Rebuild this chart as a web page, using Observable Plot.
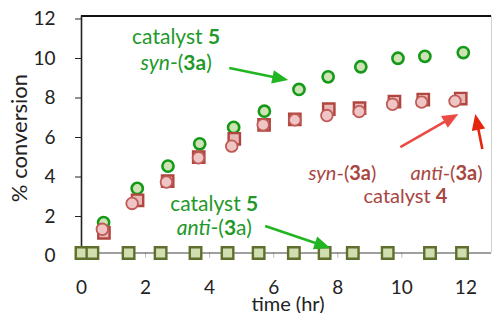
<!DOCTYPE html>
<html><head><meta charset="utf-8">
<script src="https://cdn.jsdelivr.net/npm/d3@7"></script>
<script src="https://cdn.jsdelivr.net/npm/@observablehq/plot@0.6"></script>
<style>body{margin:0;background:#fff} svg{display:block}</style>
</head><body><div id="chart"></div>
<script>
// catalyst 5, syn-(3a): green circles
const cat5SynTime = [0.69,1.74,2.70,3.69,4.75,5.71,6.79,7.70,8.72,9.88,10.72,11.92];
const cat5SynConv = [1.54,3.27,4.40,5.53,6.36,7.18,8.28,8.92,9.43,9.86,9.96,10.15];
// catalyst 5, anti-(3a): olive squares
const cat5AntiTime = [0,0.34,1.47,2.47,3.56,4.56,5.53,6.63,7.59,8.47,9.56,10.88,11.88];
const cat5AntiConv = [0,0,0,0,0,0,0,0,0,0,0,0,0];
// catalyst 4, anti-(3a): red squares
const cat4AntiTime = [0.70,1.75,2.69,3.66,4.77,5.70,6.66,7.72,8.68,9.77,10.67,11.84];
const cat4AntiConv = [1.02,2.67,3.64,4.85,5.78,6.49,6.77,7.28,7.33,7.67,7.77,7.82];
// catalyst 4, syn-(3a): pink circles
const cat4SynTime = [0.65,1.58,2.65,3.65,4.69,5.67,6.66,7.66,8.67,9.71,10.62,11.66];
const cat4SynConv = [1.20,2.51,3.59,4.82,5.41,6.49,6.74,6.96,7.16,7.53,7.64,7.69];

const xTicks = [0,2,4,6,8,10,12];
const yTicks = [0,2,4,6,8,10,12];
const xLabel = "time (hr)";
const yLabel = "% conversion";

// annotations (data coordinates)
const greenNotes = [
  {x: 2.97, y: 10.91, parts: [["catalyst ", ""], ["5", "b"]]},
  {x: 2.97, y: 9.59, parts: [["syn", "i"], ["-(", ""], ["3a", "b"], [")", ""]]},
  {x: 4.16, y: 2.46, parts: [["catalyst ", ""], ["5", "b"]]},
  {x: 4.16, y: 1.24, parts: [["anti", "i"], ["-(", ""], ["3", "b"], ["a)", ""]]}
];
const redNotes = [
  {x: 8.16, y: 4.05, parts: [["syn", "i"], ["-(", ""], ["3a", "b"], [")", ""]]},
  {x: 11.41, y: 4.05, parts: [["anti", "i"], ["-(", ""], ["3a", "b"], [")", ""]]},
  {x: 10.13, y: 2.88, parts: [["catalyst ", ""], ["4", "b"]]}
];
const arrows = [
  {x1: 4.63, y1: 9.34, x2: 6.47, y2: 8.73, c: "#22b522"},
  {x1: 5.75, y1: 1.34, x2: 7.78, y2: 0.23, c: "#22b522"},
  {x1: 9.97, y1: 5.34, x2: 11.78, y2: 7.01, c: "#ec4a44"},
  {x1: 12.53, y1: 5.24, x2: 12.31, y2: 7.01, c: "#e6250e"}
];

const zip = (xs, ys) => xs.map((x, i) => ({x, y: ys[i]}));
const FONT = "Lato, 'Open Sans', sans-serif";

const chart = Plot.plot({
  width: 495, height: 313,
  marginLeft: 81, marginRight: 4, marginTop: 15.5, marginBottom: 60.5,
  style: {fontFamily: FONT, background: "white", overflow: "visible"},
  x: {domain: [0, 12.8]},
  y: {domain: [0, 12]},
  marks: [
    Plot.ruleY([12], {stroke: "#111", strokeWidth: 2}),
    Plot.ruleX([12.8], {stroke: "#d0d0d0", strokeWidth: 1}),
    Plot.ruleX(xTicks.slice(1), {y1: 0, y2: -0.26, stroke: "#b8b8b8"}),
    Plot.ruleY([0], {stroke: "#404040", strokeWidth: 1.2}),
    Plot.ruleX([0], {stroke: "#222", strokeWidth: 1.6}),
    Plot.axisY({ticks: yTicks, tickSize: 6, tickPadding: 20, fontSize: 19, dy: 3, label: null, color: "#222"}),
    Plot.axisX({ticks: xTicks, tickSize: 0, tickPadding: 27, fontSize: 19, label: null, color: "#222"}),
    Plot.dot(zip(cat5SynTime, cat5SynConv), {x: "x", y: "y", r: 5.6, fill: "#cfe2b4", stroke: "#149a18", strokeWidth: 2.6}),
    Plot.dot(zip(cat4AntiTime, cat4AntiConv), {x: "x", y: "y", r: 6.4, symbol: "square", fill: "#e6b8b6", stroke: "#b0463f", strokeWidth: 2.4}),
    Plot.dot(zip(cat4SynTime, cat4SynConv), {x: "x", y: "y", r: 5.8, fill: "#efc6c5", stroke: "#c05a55", strokeWidth: 1.8}),
    Plot.dot(zip(cat5AntiTime, cat5AntiConv), {x: "x", y: "y", r: 6.5, symbol: "square", fill: "#d0deb0", stroke: "#5f6f2e", strokeWidth: 2.4, clip: false})
  ]
});

const X = chart.scale("x"), Y = chart.scale("y");
const svg = d3.select(chart);
const g = svg.append("g").attr("font-family", FONT);

function rich(note, color, size) {
  const t = g.append("text")
    .attr("x", X.apply(note.x)).attr("y", Y.apply(note.y))
    .attr("text-anchor", "middle").attr("dy", "0.35em")
    .attr("font-size", size).attr("fill", color);
  for (const [s, st] of note.parts) {
    const sp = t.append("tspan").text(s);
    if (st === "b") sp.attr("font-weight", "bold");
    if (st === "i") sp.attr("font-style", "italic");
  }
}
greenNotes.forEach(n => rich(n, "#23982a", 21));
redNotes.forEach(n => rich(n, "#a8463f", 20));

for (const a of arrows) {
  const x1 = X.apply(a.x1), y1 = Y.apply(a.y1), x2 = X.apply(a.x2), y2 = Y.apply(a.y2);
  const dx = x2 - x1, dy = y2 - y1, L = Math.hypot(dx, dy);
  const ux = dx / L, uy = dy / L, hl = 16, hw = 6.8;
  const bx = x2 - ux * hl, by = y2 - uy * hl;
  g.append("line").attr("x1", x1).attr("y1", y1).attr("x2", bx + ux * 2).attr("y2", by + uy * 2)
    .attr("stroke", a.c).attr("stroke-width", 2.6);
  g.append("path").attr("d", `M${x2},${y2}L${bx - uy * hw},${by + ux * hw}L${bx + uy * hw},${by - ux * hw}Z`)
    .attr("fill", a.c);
}

// axis titles
g.append("text").attr("transform", `translate(19,${(Y.apply(0) + Y.apply(12)) / 2 + 4}) rotate(-90)`)
  .attr("text-anchor", "middle").attr("dy", "0.35em").attr("font-size", 22).attr("fill", "#222").text(yLabel);
g.append("text").attr("x", 288).attr("y", 304).attr("text-anchor", "middle").attr("dy", "0.35em")
  .attr("font-size", 20).attr("fill", "#222").text(xLabel);

document.getElementById("chart").append(chart);
</script>
</body></html>
